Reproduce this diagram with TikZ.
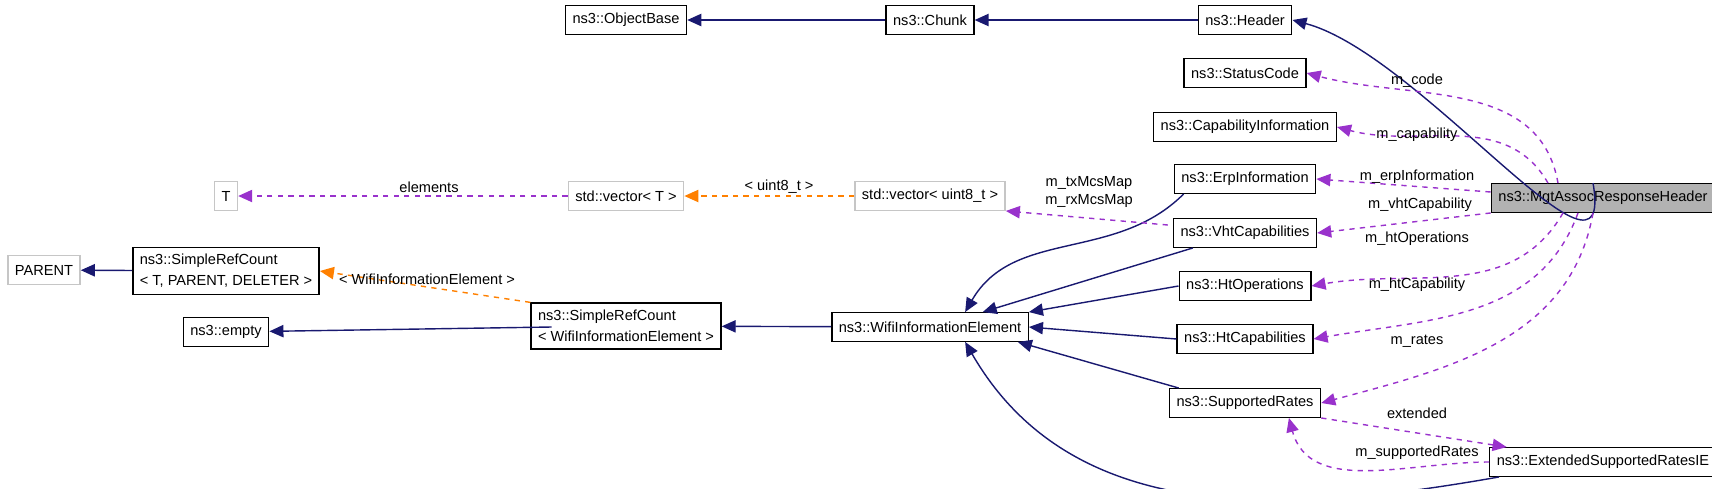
\documentclass[tikz,border=0pt]{standalone}
\usepackage{fontspec}
\setmainfont{Liberation Sans}
\usetikzlibrary{arrows.meta}
\tikzset{
>={Triangle[length=8pt,width=7pt]}, % filled heads as doxygen draws them
cls/.style={draw, thick, fill=white, inner sep=4pt, align=left, font=\fontsize{8.3}{12}\selectfont, minimum height=0.57cm},
ext/.style={cls, draw=gray!45},
main/.style={cls, fill=gray!60},
inh/.style={->, draw={rgb,255:red,25;green,25;blue,112}, thick},
use/.style={->, draw={rgb,255:red,153;green,50;blue,204}, thick, dashed},
tmpl/.style={->, draw=orange, thick, dashed},
lbl/.style={font=\fontsize{8.3}{10}\selectfont, inner sep=1pt, align=center},
}
\begin{document}
\begin{tikzpicture}[x=0.02cm, y=-0.02cm]
\useasboundingbox (0,0) rectangle (1712,488);
\node[cls] (ob) at (626,20) {ns3::ObjectBase};
\node[cls] (chunk) at (930,20) {ns3::Chunk};
\node[cls] (hdr) at (1245,20) {ns3::Header};
\node[cls] (status) at (1245,73) {ns3::StatusCode};
\node[cls] (capinfo) at (1245,127) {ns3::CapabilityInformation};
\node[cls] (erp) at (1245,179) {ns3::ErpInformation};
\node[main] (mgt) at (1603,198) {ns3::MgtAssocResponseHeader};
\node[cls] (vht) at (1245,233) {ns3::VhtCapabilities};
\node[cls] (htop) at (1245,286) {ns3::HtOperations};
\node[cls] (htcap) at (1245,339) {ns3::HtCapabilities};
\node[cls] (rates) at (1245,403) {ns3::SupportedRates};
\node[cls] (extrates) at (1603,462) {ns3::ExtendedSupportedRatesIE};
\node[cls] (wie) at (930,327) {ns3::WifiInformationElement};
\node[cls] (srcwie) at (626,326) {ns3::SimpleRefCount\\< WifiInformationElement >};
\node[cls] (empty) at (226,332) {ns3::empty};
\node[cls] (src) at (226,271) {ns3::SimpleRefCount\\< T, PARENT, DELETER >};
\node[ext] (parent) at (44,270) {PARENT};
\node[ext] (t) at (226,196) {T};
\node[ext] (vect) at (626,196) {std::vector< T >};
\node[ext] (vecu) at (930,196) {std::vector< uint8\_t >};

% inheritance
\draw[inh] (chunk) -- (ob);
\draw[inh] (hdr) -- (chunk);
\draw[inh] (mgt.north) ++(-10,0) to[out=-80, in=-15, looseness=1] (hdr.east);
\draw[inh] (erp.south west) ++(10,0) to[out=-135, in=60] ([xshift=20]wie.north);
\draw[inh] (vht.south west) ++(20,0) -- ([xshift=30]wie.north);
\draw[inh] (htop.west) -- (wie.north east);
\draw[inh] (htcap.west) -- (wie.east);
\draw[inh] (rates.north west) ++(10,0) -- ([xshift=50]wie.south);
\draw[inh] (extrates.south west) ++(10,0) to[out=190, in=-60] ([xshift=20]wie.south);
\draw[inh] (wie) -- (srcwie);
\draw[inh] (srcwie.east) ++(-170,1) -- (empty);
\draw[inh] (src) -- (parent);
\draw[tmpl] (srcwie.north west) -- (src.east);
\draw[tmpl] (vecu) -- (vect);
\draw[use] (vect) -- (t);
\draw[use] (vht.west) ++(-5,-8) -- (vecu.south east);

% members
\draw[use] (mgt.north) ++(-45,0) to[out=100, in=-15] (status.east);
\draw[use] (mgt.north) ++(-55,0) to[out=120, in=-15] (capinfo.east);
\draw[use] (mgt.west) ++(0,-6) -- (erp.east);
\draw[use] (mgt.south west) -- (vht.east);
\draw[use] (mgt.south) ++(-40,0) to[out=-120, in=10] (htop.east);
\draw[use] (mgt.south) ++(-25,0) to[out=-110, in=10] (htcap.east);
\draw[use] (mgt.south) ++(-10,0) to[out=-100, in=15] (rates.east);
\draw[use] (rates.south east) -- ([xshift=10]extrates.north west);
\draw[use] (extrates.west) to[out=180, in=-75] ([xshift=25]rates.south);

% edge labels
\node[lbl] (lelem) at (429,187) {elements};
\node[lbl] (luint) at (779,187) {< uint8\_t >};
\node[lbl] (lwie) at (427,279) {< WifiInformationElement >};
\node[lbl] (lmcs) at (1089,192) {m\_txMcsMap\\m\_rxMcsMap};
\node[lbl] (lcode) at (1417,81) {m\_code};
\node[lbl] (lcap) at (1417,135) {m\_capability};
\node[lbl] (lerp) at (1417,177) {m\_erpInformation};
\node[lbl] (lvht) at (1420,205) {m\_vhtCapability};
\node[lbl] (lhtop) at (1417,239) {m\_htOperations};
\node[lbl] (lhtcap) at (1417,285) {m\_htCapability};
\node[lbl] (lrates) at (1417,341) {m\_rates};
\node[lbl] (lext) at (1417,413) {extended};
\node[lbl] (lsup) at (1417,453) {m\_supportedRates};
\end{tikzpicture}
\end{document}
